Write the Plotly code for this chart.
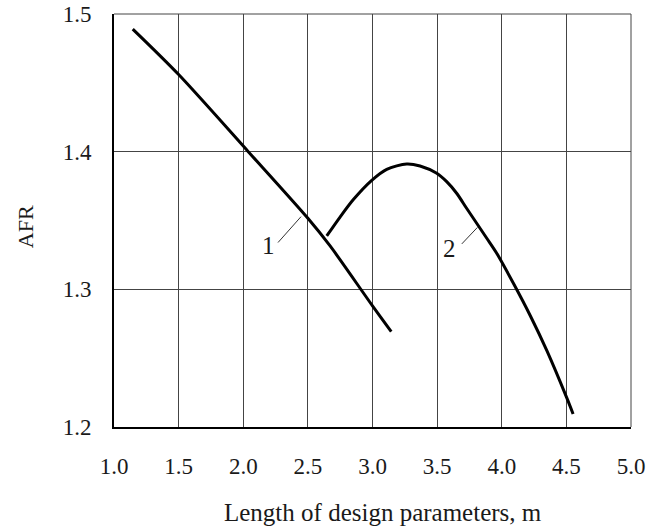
import plotly.graph_objects as go

# Curve 1
x1 = [1.145, 1.5, 2.039, 2.5, 2.672, 3.0, 3.145]
y1 = [1.489, 1.456, 1.400, 1.3516, 1.3315, 1.288, 1.2693]

# Curve 2
x2 = [2.646, 2.749, 2.852, 2.994, 3.11, 3.265, 3.368, 3.497, 3.574, 3.651, 3.728, 3.806,
      3.884, 3.961, 4.09, 4.22, 4.349, 4.504, 4.552]
y2 = [1.3388, 1.3525, 1.3652, 1.3792, 1.3872, 1.3911, 1.3896, 1.3843, 1.3782, 1.3698, 1.3589, 1.348,
      1.3371, 1.3262, 1.3044, 1.2810, 1.2555, 1.221, 1.2095]

# Curve labels and their leader lines
labels = ["1", "2"]
label_x = [2.194, 3.595]
label_y = [1.3322, 1.3298]
lead_x0 = [2.269, 3.691]
lead_y0 = [1.334, 1.333]
lead_x1 = [2.447, 3.812]
lead_y1 = [1.3528, 1.345]

x_ticks = [1.0, 1.5, 2.0, 2.5, 3.0, 3.5, 4.0, 4.5, 5.0]
y_ticks = [1.2, 1.3, 1.4, 1.5]

FONT = "Liberation Serif"
TXT = "#1a1a1a"

fig = go.Figure()
fig.add_trace(go.Scatter(x=x1, y=y1, mode="lines", line=dict(color="black", width=3, shape="spline", smoothing=0.8),
                         showlegend=False, hoverinfo="skip"))
fig.add_trace(go.Scatter(x=x2, y=y2, mode="lines", line=dict(color="black", width=3, shape="spline", smoothing=0.8),
                         showlegend=False, hoverinfo="skip"))

for i in range(len(labels)):
    fig.add_trace(go.Scatter(x=[lead_x0[i], lead_x1[i]], y=[lead_y0[i], lead_y1[i]], mode="lines",
                             line=dict(color="#333", width=1), showlegend=False, hoverinfo="skip"))
    fig.add_annotation(x=label_x[i], y=label_y[i], text=labels[i], showarrow=False,
                       font=dict(family=FONT, size=25, color=TXT), xanchor="center", yanchor="middle")

fig.update_xaxes(range=[1.0, 5.0], tickvals=x_ticks, ticktext=[f"{v:.1f}" for v in x_ticks],
                 showgrid=True, gridcolor="#444", gridwidth=1,
                 showline=True, linecolor="black", linewidth=2, mirror=False,
                 ticks="", zeroline=False, automargin=False, ticklabelstandoff=17,
                 tickfont=dict(family=FONT, size=23, color=TXT))
fig.update_yaxes(range=[1.2, 1.5], tickvals=y_ticks, ticktext=[f"{v:.1f}" for v in y_ticks],
                 showgrid=True, gridcolor="#444", gridwidth=1,
                 showline=True, linecolor="black", linewidth=2, mirror=False,
                 ticks="", zeroline=False, automargin=False, ticklabelstandoff=16,
                 tickfont=dict(family=FONT, size=23, color=TXT))

# top/right frame (gray, like gridlines)
fig.add_shape(type="line", xref="paper", yref="paper", x0=0, x1=1, y0=1, y1=1, line=dict(color="#444", width=1))
fig.add_shape(type="line", xref="paper", yref="paper", x0=1, x1=1, y0=0, y1=1, line=dict(color="#444", width=1))

fig.add_annotation(xref="paper", yref="paper", x=0.52, y=-0.208, xanchor="center", yanchor="middle",
                   text="Length of design parameters, m", showarrow=False,
                   font=dict(family=FONT, size=25, color=TXT))
fig.add_annotation(xref="paper", yref="paper", x=-0.172, y=0.484, xanchor="center", yanchor="middle",
                   text="AFR", textangle=-90, showarrow=False,
                   font=dict(family=FONT, size=22, color=TXT))

fig.update_layout(width=647, height=527, margin=dict(l=114, r=16, t=14, b=100),
                  plot_bgcolor="white", paper_bgcolor="white")

fig.write_html("out.html")
